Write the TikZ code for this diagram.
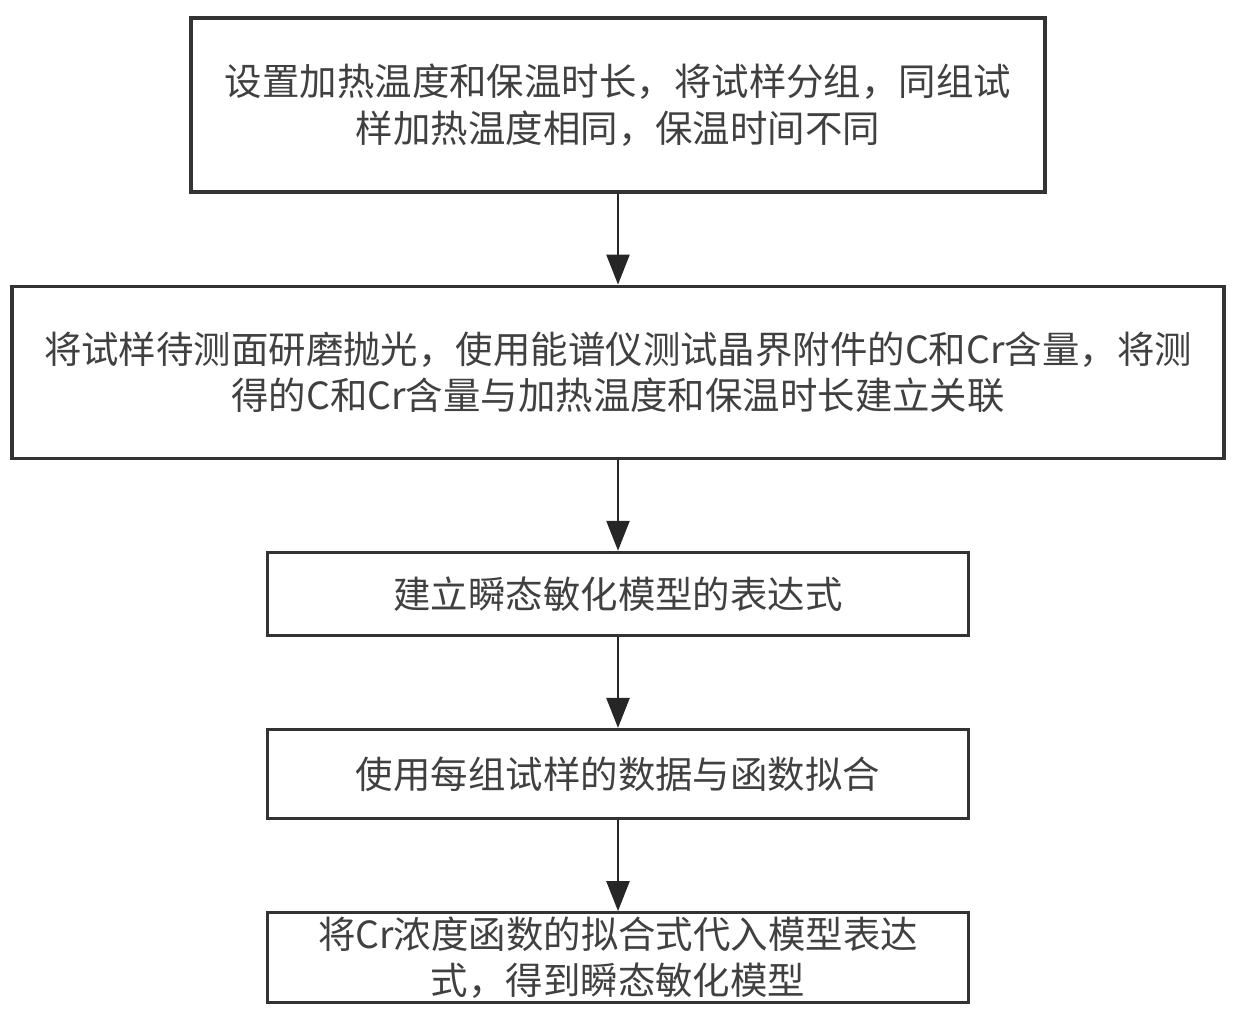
\documentclass[tikz,border=0pt]{standalone}
\usepackage{fontspec}
\newfontfamily\cjk{Noto Sans CJK SC}
\usetikzlibrary{positioning,arrows.meta}

\begin{document}
\begin{tikzpicture}[node distance=1.82cm, >={Triangle[width=0.46cm,length=0.6cm]}]
    \tikzstyle{stepbox}=[rectangle,draw=black!80,line width=1.8pt,align=center,inner sep=0pt,minimum width=14.02cm,text=black!75,font=\cjk\fontsize{21.3}{26.5}\selectfont]
    \tikzstyle{flow}=[->,line width=1.4pt,draw=black!85]
    \useasboundingbox (0,0) rectangle (24.78,-20.4);
    \node[stepbox,minimum width=17.08cm,minimum height=3.48cm] (setup) at (12.36,-2.1){设置加热温度和保温时长，将试样分组，同组试\\样加热温度相同，保温时间不同};
    \node[stepbox,minimum width=24.24cm,minimum height=3.44cm,below=of setup] (measure){将试样待测面研磨抛光，使用能谱仪测试晶界附件的C和Cr含量，将测\\得的C和Cr含量与加热温度和保温时长建立关联};
    \node[stepbox,minimum height=1.66cm,below=of measure] (model){建立瞬态敏化模型的表达式};
    \node[stepbox,minimum height=1.78cm,below=of model] (fit){使用每组试样的数据与函数拟合};
    \node[stepbox,minimum height=1.8cm,below=of fit] (result){将Cr浓度函数的拟合式代入模型表达\\式，得到瞬态敏化模型};
    \draw[flow](setup)--(measure);
    \draw[flow](measure)--(model);
    \draw[flow](model)--(fit);
    \draw[flow](fit)--(result);
\end{tikzpicture}
\end{document}
